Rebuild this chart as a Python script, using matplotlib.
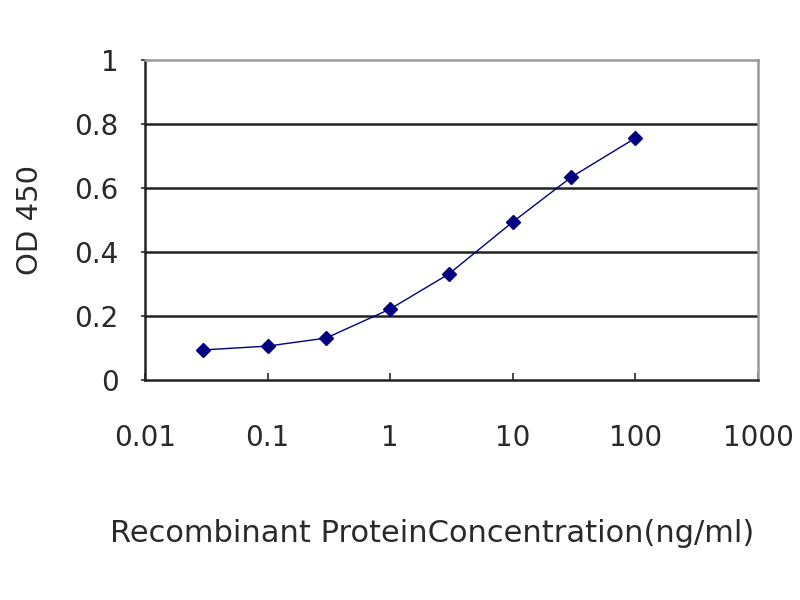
import matplotlib
matplotlib.use("Agg")
import matplotlib.pyplot as plt

concentration = [0.03, 0.1, 0.3, 1, 3, 10, 30, 100]
od450 = [0.094, 0.106, 0.131, 0.222, 0.331, 0.494, 0.634, 0.756]
x_ticks = [0.01, 0.1, 1, 10, 100, 1000]
x_tick_labels = ["0.01", "0.1", "1", "10", "100", "1000"]
y_ticks = [0, 0.2, 0.4, 0.6, 0.8, 1]
y_tick_labels = ["0", "0.2", "0.4", "0.6", "0.8", "1"]

plt.rcParams['font.family'] = ['DejaVu Sans']

fig = plt.figure(figsize=(8, 6), dpi=100)
ax = fig.add_axes([145/800, 1 - 380/600, (758-145)/800, (380-60)/600])

for yv in y_ticks[1:-1]:
    ax.axhline(yv, color="#222222", linewidth=1.8, zorder=1)

ax.plot(concentration, od450, color="#000080", linewidth=1.0, marker="D",
        markersize=7.5, markerfacecolor="#000080", markeredgecolor="#000080", zorder=3)

ax.set_xscale("log")
ax.set_xlim(0.01, 1000)
ax.set_ylim(0, 1)
ax.set_xticks(x_ticks)
ax.set_xticklabels(x_tick_labels)
ax.set_yticks(y_ticks)
ax.set_yticklabels(y_tick_labels)
ax.minorticks_off()

ax.spines["left"].set_color("#222222")
ax.spines["left"].set_linewidth(1.8)
ax.spines["bottom"].set_color("#222222")
ax.spines["bottom"].set_linewidth(1.8)
ax.spines["top"].set_color("#999999")
ax.spines["top"].set_linewidth(1.8)
ax.spines["right"].set_color("#999999")
ax.spines["right"].set_linewidth(1.8)

ax.tick_params(axis="x", direction="in", length=5, width=1.2, pad=32, labelsize=20, colors="#2a2a2a")
ax.tick_params(axis="y", direction="out", length=3, width=1.2, pad=16, labelsize=20, colors="#2a2a2a")

ax.set_xlabel("Recombinant ProteinConcentration(ng/ml)", fontsize=22, color="#2a2a2a", labelpad=48)
ax.xaxis.label.set_x(0.468)
ax.set_ylabel("OD 450", fontsize=21, color="#2a2a2a", labelpad=22)

fig.savefig("out.png", dpi=100)
